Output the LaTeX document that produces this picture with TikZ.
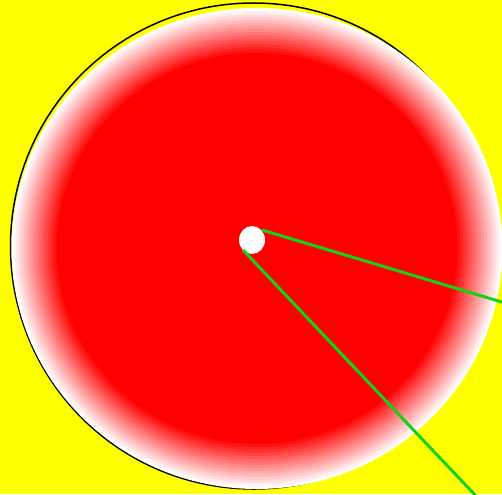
\documentclass[tikz,border=0pt]{standalone}
\usetikzlibrary{shapes.geometric}
\definecolor{bgyellow}{RGB}{255,255,0}
\definecolor{lgreen}{RGB}{20,210,20}
\tikzset{
  ray/.style={lgreen, line width=3pt},
  hub/.style={ellipse, fill=white, draw=none, minimum width=26pt, minimum height=28pt, inner sep=0pt}
}
\begin{document}
\begin{tikzpicture}[x=1pt,y=-1pt]
\fill[bgyellow] (0,0) rectangle (502,494);
\useasboundingbox (0,0) rectangle (502,494);
\draw[black, line width=1.5pt] (253.5,246) circle[radius=243];
\foreach \i in {0,...,15}{
  \pgfmathsetmacro\c{100*\i/15}
  \fill[red!\c!white] (257,248.5) ellipse[x radius={245.5-3*\i}, y radius={240.5-3*\i}];
}
\node[hub] (dot) at (252,240) {};
\coordinate (s1) at (262,230);
\coordinate (e1) at (505,303);
\coordinate (s2) at (243,250);
\coordinate (e2) at (476,496);
\draw[ray] (s1) -- (e1);
\draw[ray] (s2) -- (e2);
\end{tikzpicture}
\end{document}
